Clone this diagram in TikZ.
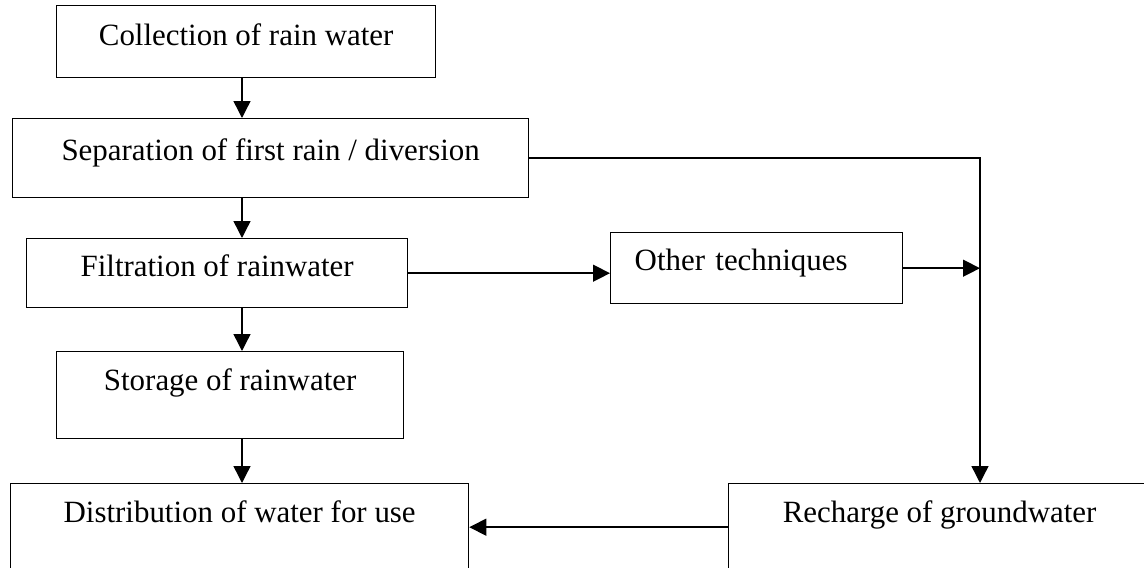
\documentclass[tikz,border=0pt]{standalone}
\usepackage{fontspec}
\setmainfont{Liberation Serif}
\usetikzlibrary{arrows.meta}

\begin{document}
\begin{tikzpicture}[x=0.02cm, y=-0.02cm,
        blk/.style={draw, line width=0.8pt, inner sep=0pt, anchor=north west, font=\fontsize{17.6}{21}\selectfont},
        flow/.style={-{Triangle[length=0.34cm, width=0.34cm]}, line width=0.8pt},
    ]
        \useasboundingbox (0,0) rectangle (1144,568);
        \clip (0,0) rectangle (1144,568);
        \node[blk, minimum width=7.58cm, text height=0.80cm, text depth=0.64cm] (coll) at (56,5) {Collection of rain water};
        \node[blk, minimum width=10.32cm, text height=0.84cm, text depth=0.74cm] (sep) at (12,118) {Separation of first rain / diversion};
        \node[blk, minimum width=7.62cm, text height=0.76cm, text depth=0.62cm] (filt) at (26,238) {Filtration of rainwater};
        \node[blk, inner xsep=0.48cm, text width=4.88cm, align=left, text height=0.76cm, text depth=0.66cm] (other) at (610,232) {Other techniques};
        \node[blk, minimum width=6.94cm, text height=0.78cm, text depth=0.96cm] (stor) at (56,351) {Storage of rainwater};
        \node[blk, minimum width=9.16cm, text height=0.78cm, text depth=0.96cm] (dist) at (10,483) {Distribution of water for use};
        \node[blk, minimum width=8.44cm, text height=0.78cm, text depth=0.96cm] (rech) at (728,483) {Recharge of groundwater};
        \coordinate (ax) at (242,0);
        \coordinate (vx) at (980,0);
        \draw[flow] (coll.south -| ax) -- (sep.north -| ax);
        \draw[flow] (sep.south -| ax) -- (filt.north -| ax);
        \draw[flow] (filt.south -| ax) -- (stor.north -| ax);
        \draw[flow] (stor.south -| ax) -- (dist.north -| ax);
        \draw[flow] (sep.east) -| (rech.north -| vx);
        \draw[flow] (filt.east) -- (filt.east -| other.west);
        \draw[flow] (other.east) -- (other.east -| vx);
        \draw[flow] (rech.west) -- (dist.east);
    \end{tikzpicture}
\end{document}
